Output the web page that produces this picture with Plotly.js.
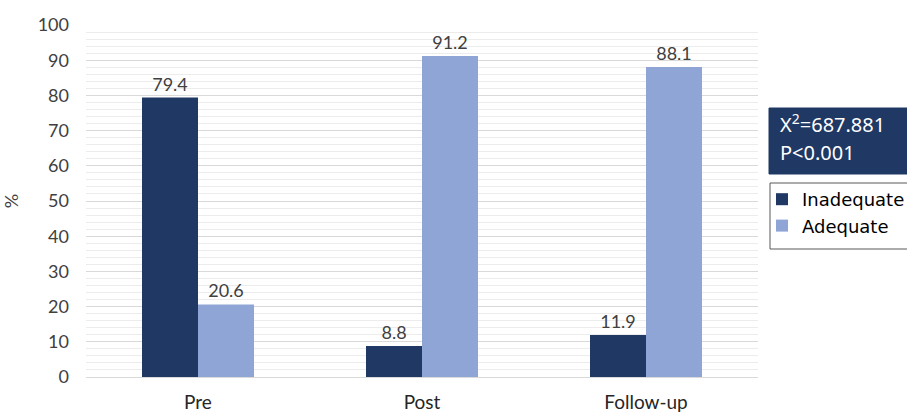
<!DOCTYPE html>
<html>
<head>
<meta charset="utf-8">
<script src="https://cdn.plot.ly/plotly-3.0.1.min.js"></script>
<style>html,body{margin:0;padding:0;background:#fff;}#chart{width:907px;height:417px;}</style>
</head>
<body>
<div id="chart"></div>
<script>
const categories = ["Pre", "Post", "Follow-up"];
const inadequate = [79.4, 8.8, 11.9];
const adequate = [20.6, 91.2, 88.1];
const seriesNames = ["Inadequate", "Adequate"];
const statLines = ["X<sup>2</sup>=687.881", "P<0.001"];

const L = 86, R = 149, T = 25, B = 40, W = 907, H = 417;
const pw = W - L - R, ph = H - T - B;
const px = x => (x - L) / pw;
const py = y => (H - B - y) / ph;

const labelFont = {family: "Lato, sans-serif", size: 18, color: "#404040"};

const traces = [
  {type: "bar", name: seriesNames[0], x: categories, y: inadequate,
   marker: {color: "#1F3864"}, text: inadequate.map(v => v.toFixed(1)),
   textposition: "outside", textfont: labelFont, cliponaxis: false},
  {type: "bar", name: seriesNames[1], x: categories, y: adequate,
   marker: {color: "#8FA5D6"}, text: adequate.map(v => v.toFixed(1)),
   textposition: "outside", textfont: labelFont, cliponaxis: false}
];

const layout = {
  width: W, height: H,
  margin: {l: L, r: R, t: T, b: B, autoexpand: false},
  paper_bgcolor: "#fff", plot_bgcolor: "#fff",
  barmode: "group", bargap: 0.5, bargroupgap: 0,
  font: {family: "Lato, sans-serif", size: 18, color: "#404040"},
  xaxis: {type: "category", showgrid: false, ticks: "", ticklabelstandoff: 12,
          tickfont: {family: "Lato, sans-serif", size: 19, color: "#262626"}, showline: false, zeroline: false},
  yaxis: {range: [0, 100], dtick: 10, showgrid: true, gridcolor: "#d9d9d9", gridwidth: 1,
          minor: {dtick: 2, showgrid: true, gridcolor: "#ececec", gridwidth: 1},
          zeroline: true, zerolinecolor: "#d9d9d9", zerolinewidth: 1,
          ticks: "", ticklabelstandoff: 16, tickfont: {family: "Lato, sans-serif", size: 18, color: "#404040"},
          title: {text: "%", font: {family: "Lato, sans-serif", size: 18, color: "#404040"}, standoff: 20}},
  showlegend: true,
  legend: {x: px(762), xanchor: "left", y: py(181), yanchor: "top", xref: "paper", yref: "paper",
           bgcolor: "rgba(0,0,0,0)", borderwidth: 0,
           font: {family: "DejaVu Sans, sans-serif", size: 18, color: "#000"}, tracegroupgap: 0},
  shapes: [
    {type: "rect", xref: "paper", yref: "paper", x0: px(769), x1: px(950), y0: py(174), y1: py(108),
     fillcolor: "#1F3864", line: {color: "#1F3864", width: 1}, layer: "below"},
    {type: "rect", xref: "paper", yref: "paper", x0: px(770), x1: px(950), y0: py(249), y1: py(183),
     fillcolor: "rgba(0,0,0,0)", line: {color: "#595959", width: 1}}
  ],
  annotations: [
    {xref: "paper", yref: "paper", x: px(778), y: py(123), xanchor: "left", yanchor: "middle",
     text: statLines[0], showarrow: false, font: {family: "Noto Sans, sans-serif", size: 20, color: "#fff"}},
    {xref: "paper", yref: "paper", x: px(778), y: py(152), xanchor: "left", yanchor: "middle",
     text: statLines[1], showarrow: false, font: {family: "Noto Sans, sans-serif", size: 20, color: "#fff"}}
  ]
};

Plotly.newPlot("chart", traces, layout, {displayModeBar: false, staticPlot: true});
</script>
</body>
</html>
